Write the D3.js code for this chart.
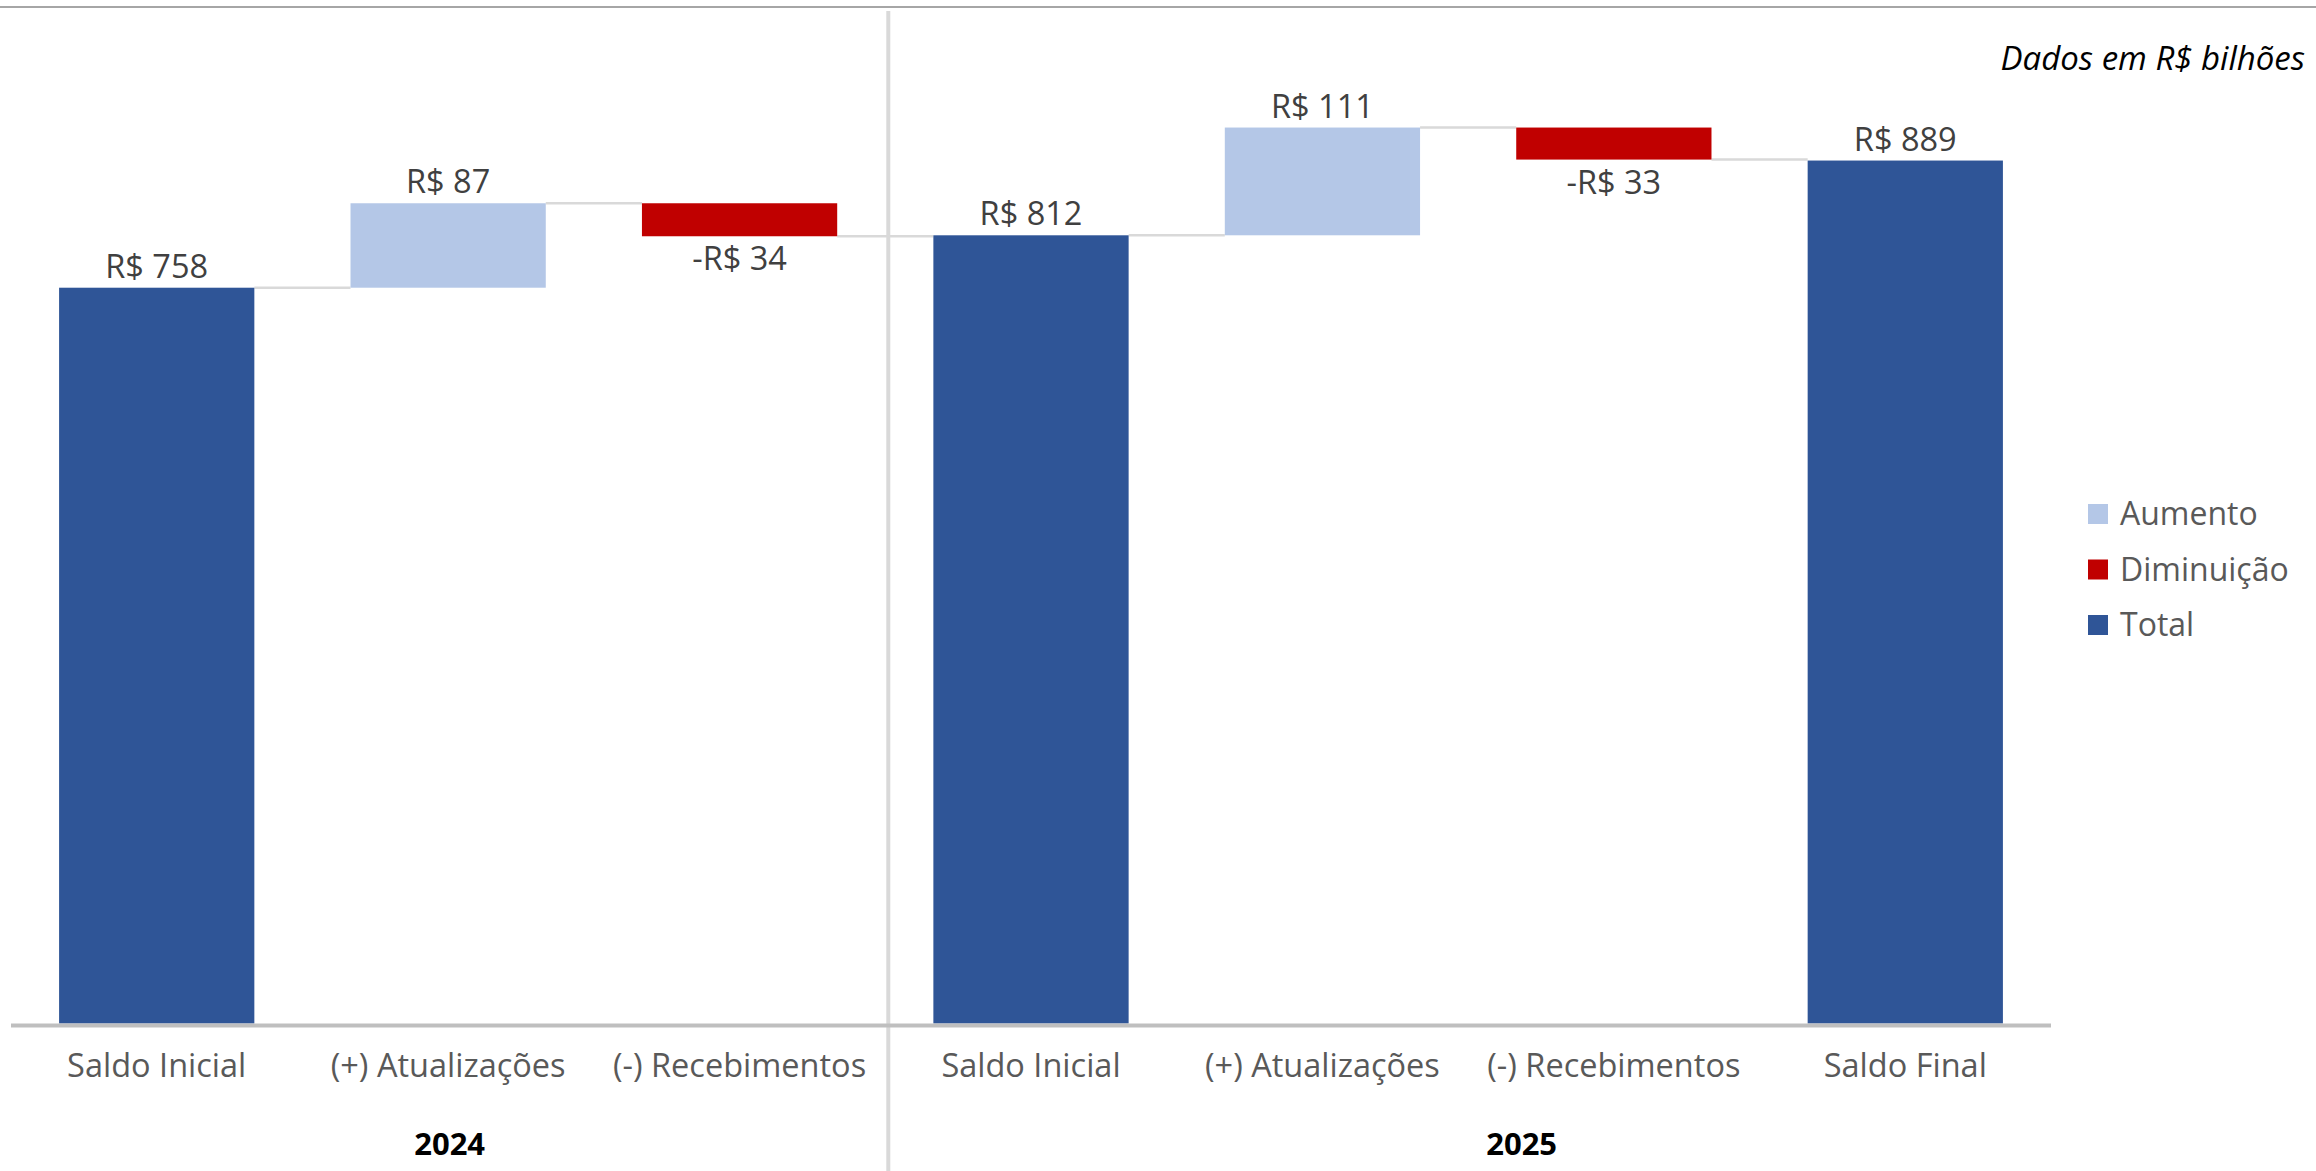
<!DOCTYPE html>
<html>
<head>
<meta charset="utf-8">
<script src="https://cdn.jsdelivr.net/npm/d3@7"></script>
<style>
  html, body { margin: 0; padding: 0; background: #fff; }
  svg { display: block; font-family: "Open Sans", "Noto Sans", sans-serif; }
</style>
</head>
<body>
<svg class="chart"></svg>
<script>
// data
var categories = ["Saldo Inicial", "(+) Atualizações", "(-) Recebimentos",
                  "Saldo Inicial", "(+) Atualizações", "(-) Recebimentos", "Saldo Final"];
var years = ["2024", "2025"];
var yearOf = ["2024", "2024", "2024", "2025", "2025", "2025", "2025"];
var kinds = ["total", "increase", "decrease", "total", "increase", "decrease", "total"];
var values = [758, 87, -34, 812, 111, -33, 889];
var legendLabels = ["Aumento", "Diminuição", "Total"];
var legendKinds = ["increase", "decrease", "total"];

var W = 2316, H = 1171;
var color = { total: "#2F5597", increase: "#B4C7E7", decrease: "#C00000" };

var svg = d3.select(".chart").attr("width", W).attr("height", H);

var x = d3.scaleBand().domain(d3.range(categories.length))
    .range([11, 2051]).paddingInner(0.33).paddingOuter(0.165);
var y = d3.scaleLinear().domain([0, 1000]).range([1023.5, 52.8]);
var plotRight = 2155;

// waterfall
var running = 0;
var data = values.map(function (v, i) {
    var k = kinds[i], start, end;
    if (k === "total") { start = 0; end = v; running = v; }
    else { start = running; end = running + v; running = end; }
    return { i: i, kind: k, value: v, start: start, end: end, level: running };
});

function fmt(v) { return (v < 0 ? "-" : "") + "R$ " + Math.abs(v); }

// top rule
svg.append("line").attr("x1", 0).attr("x2", W).attr("y1", 7).attr("y2", 7)
    .attr("stroke", "#a6a6a6").attr("stroke-width", 2);

// year separator
var sep = x(3) - x.step() * x.paddingInner() / 2 + 3;
svg.append("line").attr("x1", sep).attr("x2", sep).attr("y1", 11).attr("y2", H)
    .attr("stroke", "#d9d9d9").attr("stroke-width", 4);

// connectors
svg.selectAll(".conn").data(data.slice(0, -1)).enter().append("line")
    .attr("class", "conn")
    .attr("x1", function (d) { return x(d.i) + x.bandwidth(); })
    .attr("x2", function (d) { return x(d.i + 1); })
    .attr("y1", function (d) { return y(d.level); })
    .attr("y2", function (d) { return y(d.level); })
    .attr("stroke", "#d9d9d9").attr("stroke-width", 2.5);

// bars
svg.selectAll(".bar").data(data).enter().append("rect")
    .attr("class", "bar")
    .attr("x", function (d) { return x(d.i); })
    .attr("width", x.bandwidth())
    .attr("y", function (d) { return y(Math.max(d.start, d.end)); })
    .attr("height", function (d) { return Math.abs(y(d.start) - y(d.end)); })
    .attr("fill", function (d) { return color[d.kind]; });

// value labels
svg.selectAll(".val").data(data).enter().append("text")
    .attr("class", "val")
    .attr("x", function (d) { return x(d.i) + x.bandwidth() / 2; })
    .attr("y", function (d) {
        return d.value < 0 ? y(d.end) + 34 : y(d.end) - 10;
    })
    .attr("text-anchor", "middle")
    .attr("font-size", 32.5)
    .attr("fill", "#404040")
    .text(function (d) { return fmt(d.value); });

// axis baseline
svg.append("line").attr("x1", x.range()[0]).attr("x2", x.range()[1])
    .attr("y1", y(0) + 2).attr("y2", y(0) + 2)
    .attr("stroke", "#bfbfbf").attr("stroke-width", 4);

// category labels
svg.selectAll(".cat").data(categories).enter().append("text")
    .attr("class", "cat")
    .attr("x", function (d, i) { return x(i) + x.bandwidth() / 2; })
    .attr("y", 1077)
    .attr("text-anchor", "middle")
    .attr("font-size", 32.5)
    .attr("fill", "#595959")
    .text(function (d) { return d; });

// year labels
var spans = [[x.range()[0], sep], [sep, plotRight]];
svg.selectAll(".year").data(years).enter().append("text")
    .attr("class", "year")
    .attr("x", function (d, i) { return (spans[i][0] + spans[i][1]) / 2; })
    .attr("y", 1155)
    .attr("text-anchor", "middle")
    .attr("font-size", 31)
    .attr("font-weight", "bold")
    .attr("fill", "#000")
    .text(function (d) { return d; });

// note
svg.append("text").attr("x", 2305).attr("y", 70)
    .attr("text-anchor", "end").attr("font-size", 33)
    .attr("font-style", "italic").attr("fill", "#000")
    .text("Dados em R$ bilhões");

// legend
var legend = svg.selectAll(".leg").data(legendLabels).enter().append("g")
    .attr("class", "leg")
    .attr("transform", function (d, i) { return "translate(2088," + (525 + i * 55.5) + ")"; });
legend.append("rect").attr("x", 0).attr("y", -21).attr("width", 20).attr("height", 20)
    .attr("fill", function (d, i) { return color[legendKinds[i]]; });
legend.append("text").attr("x", 32).attr("y", 0)
    .attr("font-size", 32).attr("fill", "#595959")
    .text(function (d) { return d; });
</script>
</body>
</html>
